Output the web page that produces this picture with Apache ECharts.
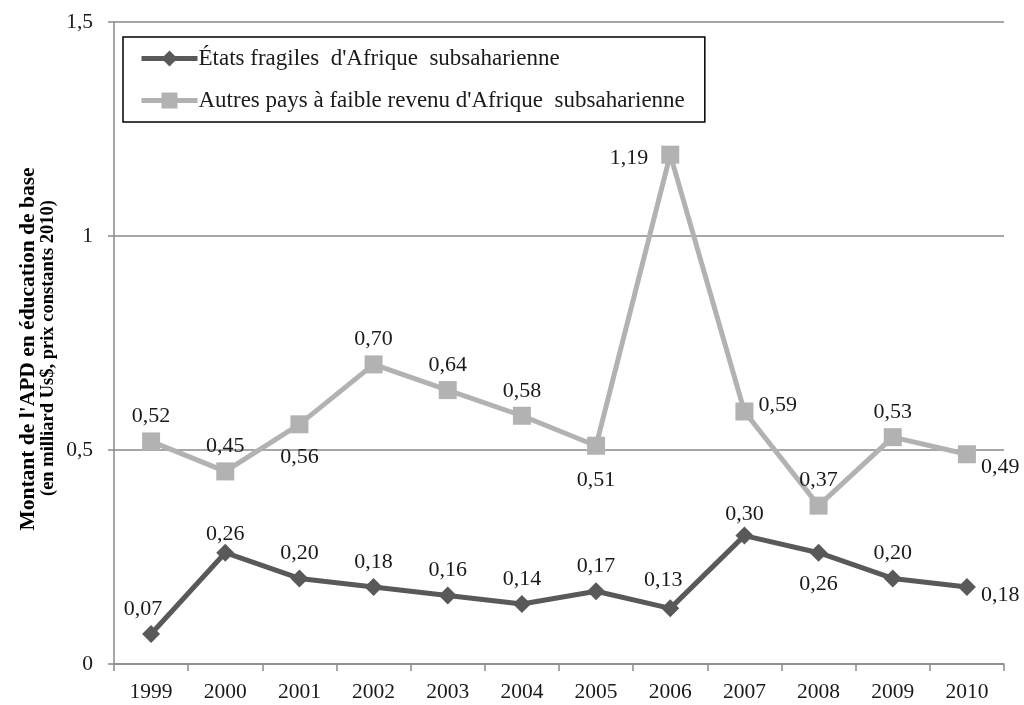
<!DOCTYPE html>
<html>
<head>
<meta charset="utf-8">
<script src="https://cdn.jsdelivr.net/npm/echarts@6/dist/echarts.min.js"></script>
<style>html,body{margin:0;padding:0;background:#fff}#c{width:1024px;height:705px}</style>
</head>
<body>
<div id="c"></div>
<script>
var years = ['1999','2000','2001','2002','2003','2004','2005','2006','2007','2008','2009','2010'];
var fragiles = [0.07,0.26,0.20,0.18,0.16,0.14,0.17,0.13,0.30,0.26,0.20,0.18];
var autres = [0.52,0.45,0.56,0.70,0.64,0.58,0.51,1.19,0.59,0.37,0.53,0.49];
var nameFragiles = "États fragiles  d'Afrique  subsaharienne";
var nameAutres = "Autres pays à faible revenu d'Afrique  subsaharienne";

// label placement (style only)
var fragPos = ['top','top','top','top','top','top','top','top','top','bottom','top','right'];
var fragOff = [[-8,0],[0,6],[0,0],[0,0],[0,0],[0,0],[0,0],[-7,-3],[0,4],[0,6],[0,0],[0,8]];
var autPos = ['top','top','bottom','top','top','top','bottom','left','right','top','top','right'];
var autOff = [[0,0],[0,0],[0,8],[0,0],[0,0],[0,0],[0,9],[-8,4],[0,-6],[0,0],[0,0],[0,13]];

var FONT = '"Liberation Serif", "DejaVu Serif", serif';

function fmt(v){ return v.toFixed(2).replace('.', ','); }
function build(vals, pos, off){
  return vals.map(function(v,i){
    return { value: v, label: { position: pos[i], offset: off[i] } };
  });
}

var chart = echarts.init(document.getElementById('c'));
chart.setOption({
  animation: false,
  backgroundColor: '#ffffff',
  textStyle: { fontFamily: FONT },
  grid: { left: 114, right: 20, top: 22, bottom: 41, containLabel: false },
  legend: {
    orient: 'vertical',
    left: 123, top: 37,
    padding: [10, 20, 10, 16],
    itemGap: 19,
    itemWidth: 56,
    itemHeight: 20,
    borderColor: '#000', borderWidth: 1.5,
    backgroundColor: '#fff',
    lineStyle: { width: 5 },
    textStyle: { fontFamily: FONT, fontSize: 23, color: '#1a1a1a', padding: [0,0,0,-4] },
    data: [nameFragiles, nameAutres]
  },
  xAxis: {
    type: 'category',
    data: years,
    boundaryGap: true,
    axisLine: { lineStyle: { color: '#8a8a8a', width: 1.5 } },
    axisTick: { show: true, length: 7, lineStyle: { color: '#8a8a8a', width: 1.5 } },
    axisLabel: { color: '#1a1a1a', fontSize: 21.5, fontFamily: FONT, margin: 17 },
    splitLine: { show: false }
  },
  yAxis: {
    type: 'value',
    min: 0, max: 1.5, interval: 0.5,
    axisLine: { show: true, lineStyle: { color: '#8a8a8a', width: 1.5 } },
    axisTick: { show: true, length: 6, lineStyle: { color: '#8a8a8a', width: 1.5 } },
    axisLabel: { color: '#1a1a1a', fontSize: 21.5, fontFamily: FONT, margin: 21,
      formatter: function(v){ return String(v).replace('.', ','); } },
    splitLine: { show: true, lineStyle: { color: '#8a8a8a', width: 1.5 } }
  },
  graphic: [
    { type: 'text', x: 28, y: 349, rotation: Math.PI/2,
      style: { text: "Montant de l'APD en éducation de base", font: 'bold 21.5px ' + FONT,
        fill: '#000', textAlign: 'center', textVerticalAlign: 'middle' } },
    { type: 'text', x: 48, y: 348, rotation: Math.PI/2,
      style: { text: '(en milliard Us$, prix constants 2010)', font: 'bold 18.5px ' + FONT,
        fill: '#000', textAlign: 'center', textVerticalAlign: 'middle' } }
  ],
  series: [
    {
      name: nameFragiles, type: 'line',
      data: build(fragiles, fragPos, fragOff),
      symbol: 'diamond', symbolSize: 18,
      lineStyle: { color: '#595959', width: 5 },
      itemStyle: { color: '#595959' },
      label: { show: true, fontSize: 22, fontFamily: FONT, color: '#1a1a1a', distance: 5,
        formatter: function(p){ return fmt(p.value); } },
      z: 3
    },
    {
      name: nameAutres, type: 'line',
      data: build(autres, autPos, autOff),
      symbol: 'rect', symbolSize: 18,
      lineStyle: { color: '#b2b2b2', width: 5 },
      itemStyle: { color: '#b2b2b2' },
      label: { show: true, fontSize: 22, fontFamily: FONT, color: '#1a1a1a', distance: 5,
        formatter: function(p){ return fmt(p.value); } },
      z: 2
    }
  ]
});
</script>
</body>
</html>
